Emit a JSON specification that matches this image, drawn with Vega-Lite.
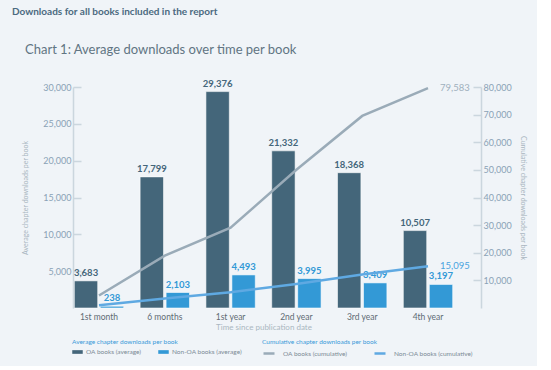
{
  "$schema": "https://vega.github.io/schema/vega-lite/v6.json",
  "background": "#f0f4f8",
  "padding": {"left": 12, "top": 6, "right": 10, "bottom": 7},
  "config": {"font": "Lato", "view": {"stroke": null}},
  "title": {
    "text": "Downloads for all books included in the report",
    "anchor": "start", "frame": "group", "dx": -61,
    "fontSize": 10, "fontWeight": "bold", "color": "#4b6a80", "font": "Lato", "offset": 27
  },
  "vconcat": [
    {
      "width": 381,
      "height": 221,
      "title": {
        "text": "Chart 1: Average downloads over time per book",
        "anchor": "start", "frame": "group", "dx": -48,
        "fontSize": 13, "fontWeight": "normal", "color": "#617583", "font": "Lato", "offset": 22
      },
      "resolve": {"scale": {"y": "independent"}},
      "layer": [
        {
          "data": {
            "values": [
              {"period": "1st month", "series": "OA books (average)", "value": 3683},
              {"period": "1st month", "series": "Non-OA books (average)", "value": 238},
              {"period": "6 months", "series": "OA books (average)", "value": 17799},
              {"period": "6 months", "series": "Non-OA books (average)", "value": 2103},
              {"period": "1st year", "series": "OA books (average)", "value": 29376},
              {"period": "1st year", "series": "Non-OA books (average)", "value": 4493},
              {"period": "2nd year", "series": "OA books (average)", "value": 21332},
              {"period": "2nd year", "series": "Non-OA books (average)", "value": 3995},
              {"period": "3rd year", "series": "OA books (average)", "value": 18368},
              {"period": "3rd year", "series": "Non-OA books (average)", "value": 3409},
              {"period": "4th year", "series": "OA books (average)", "value": 10507},
              {"period": "4th year", "series": "Non-OA books (average)", "value": 3197}
            ]
          },
          "encoding": {
            "x": {
              "field": "period", "type": "nominal",
              "sort": ["1st month", "6 months", "1st year", "2nd year", "3rd year", "4th year"],
              "scale": {"type": "band", "paddingInner": 0.25, "paddingOuter": 0.02},
              "axis": {
                "title": "Time since publication date", "labelAngle": 0, "ticks": false, "domain": false,
                "labelFontSize": 8.5, "labelColor": "#5f6b74", "labelPadding": 4,
                "titleFontSize": 8, "titleColor": "#aab7c1", "titleFontWeight": "normal", "titlePadding": 3
              }
            },
            "xOffset": {
              "field": "series", "type": "nominal",
              "sort": ["OA books (average)", "Non-OA books (average)"],
              "scale": {"paddingInner": 0.1}
            },
            "y": {
              "field": "value", "type": "quantitative",
              "scale": {"domain": [0, 30000], "nice": false},
              "axis": {
                "title": "Average chapter downloads per book",
                "values": [5000, 10000, 15000, 20000, 25000, 30000],
                "format": ",d", "grid": false, "tickSize": -8, "tickColor": "#cbd6de", "tickWidth": 1.5,
                "domainColor": "#cbd6de", "domainWidth": 1.5,
                "labelFontSize": 9, "labelColor": "#8aa2b6", "labelPadding": 10,
                "titleFontSize": 7, "titleColor": "#a9b6c0", "titleFontWeight": "normal", "titlePadding": 14
              }
            },
            "color": {
              "field": "series", "type": "nominal",
              "scale": {"domain": ["OA books (average)", "Non-OA books (average)"], "range": ["#44667a", "#3399d6"]},
              "legend": {
                "orient": "none", "legendX": -1, "legendY": 252, "direction": "horizontal",
                "title": "Average chapter downloads per book",
                "titleFontSize": 6.5, "titleColor": "#3a9ad9", "titleFontWeight": "normal", "titlePadding": 1,
                "labelFontSize": 6.5, "labelColor": "#7b8a95", "labelOffset": 3,
                "symbolType": "M-1,-0.35H1V0.35H-1Z", "symbolSize": 110, "symbolStrokeWidth": 0,
                "columnPadding": 16
              }
            }
          },
          "layer": [
            {"mark": {"type": "bar", "stroke": "#ffffff", "strokeWidth": 0.8, "strokeOpacity": 0.7}},
            {
              "mark": {"type": "text", "baseline": "bottom", "dy": -3, "fontWeight": "bold", "fontSize": 9.5},
              "encoding": {"text": {"field": "value", "type": "quantitative", "format": ","}}
            }
          ]
        },
        {
          "data": {
            "values": [
              {"period": "1st month", "series": "OA books (cumulative)", "value": 4515},
              {"period": "6 months", "series": "OA books (cumulative)", "value": 18960},
              {"period": "1st year", "series": "OA books (cumulative)", "value": 29070},
              {"period": "2nd year", "series": "OA books (cumulative)", "value": 50020},
              {"period": "3rd year", "series": "OA books (cumulative)", "value": 69520},
              {"period": "4th year", "series": "OA books (cumulative)", "value": 79583},
              {"period": "1st month", "series": "Non-OA books (cumulative)", "value": 1000},
              {"period": "6 months", "series": "Non-OA books (cumulative)", "value": 3430},
              {"period": "1st year", "series": "Non-OA books (cumulative)", "value": 5700},
              {"period": "2nd year", "series": "Non-OA books (cumulative)", "value": 8670},
              {"period": "3rd year", "series": "Non-OA books (cumulative)", "value": 12100},
              {"period": "4th year", "series": "Non-OA books (cumulative)", "value": 15095}
            ]
          },
          "encoding": {
            "x": {
              "field": "period", "type": "nominal",
              "sort": ["1st month", "6 months", "1st year", "2nd year", "3rd year", "4th year"],
              "scale": {"type": "band", "paddingInner": 0.25, "paddingOuter": 0.02}
            },
            "y": {
              "field": "value", "type": "quantitative",
              "scale": {"domain": [0, 80000], "nice": false},
              "axis": {
                "orient": "right", "offset": 27,
                "title": "Cumulative chapter downloads per book",
                "values": [10000, 20000, 30000, 40000, 50000, 60000, 70000, 80000],
                "format": ",d", "grid": false, "tickSize": -8, "tickColor": "#cbd6de", "tickWidth": 1.5,
                "domainColor": "#cbd6de", "domainWidth": 1.5,
                "labelFontSize": 9, "labelColor": "#8aa2b6", "labelPadding": 10,
                "titleFontSize": 7, "titleColor": "#a9b6c0", "titleFontWeight": "normal", "titlePadding": 8
              }
            }
          },
          "layer": [
            {
              "mark": {"type": "line", "strokeWidth": 2.5},
              "encoding": {
                "stroke": {
                  "field": "series", "type": "nominal",
                  "scale": {"domain": ["OA books (cumulative)", "Non-OA books (cumulative)"], "range": ["#9aabb8", "#5fa9e2"]},
                  "legend": {
                    "orient": "none", "legendX": 189, "legendY": 252, "direction": "horizontal",
                    "title": "Cumulative chapter downloads per book",
                    "titleFontSize": 6.5, "titleColor": "#3a9ad9", "titleFontWeight": "normal", "titlePadding": 1,
                    "labelFontSize": 6.5, "labelColor": "#7b8a95", "labelOffset": 7,
                    "symbolType": "stroke", "symbolSize": 121, "symbolStrokeWidth": 2.5,
                    "columnPadding": 21
                  }
                }
              }
            },
            {
              "transform": [{"filter": "datum.period === '4th year'"}],
              "mark": {"type": "text", "align": "left", "baseline": "middle", "dx": 12, "fontSize": 9.5},
              "encoding": {
                "text": {"field": "value", "type": "quantitative", "format": ","},
                "fill": {
                  "field": "series", "type": "nominal",
                  "scale": {"domain": ["OA books (cumulative)", "Non-OA books (cumulative)"], "range": ["#9fb0bd", "#4aa3df"]},
                  "legend": null
                }
              }
            }
          ]
        }
      ]
    }
  ]
}
